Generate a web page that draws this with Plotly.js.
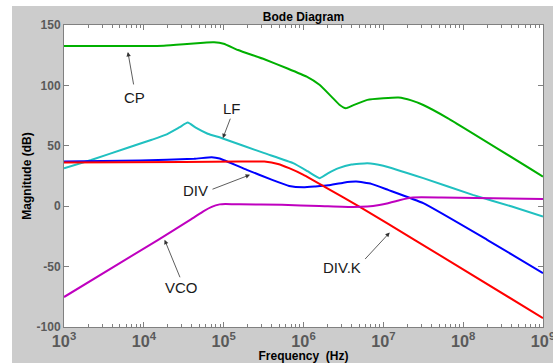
<!DOCTYPE html>
<html>
<head>
<meta charset="utf-8">
<script src="https://cdn.plot.ly/plotly-3.0.1.min.js"></script>
<style>
  html, body { margin: 0; padding: 0; background: #ffffff; }
  #chart { position: absolute; left: 12px; top: 6px; width: 541px; height: 357px; }
</style>
</head>
<body>
<div id="chart"></div>
<script>
// log10(frequency in Hz) and magnitude (dB)
const cpLogF  = [3, 4.0, 4.25, 4.5, 4.75, 4.88, 5.0, 5.18, 5.51, 5.8, 6.04, 6.2, 6.35, 6.45, 6.53, 6.62, 6.8, 7.0, 7.19, 7.35, 7.5, 7.81, 9];
const cpDB    = [132.6, 132.6, 132.8, 134, 135.4, 135.7, 134.5, 129.3, 121.6, 114, 107.2, 100.5, 90.7, 84, 81.1, 83.5, 88, 89.3, 89.9, 87.6, 83.8, 72.8, 24.5];

const lfLogF  = [3, 3.34, 3.78, 4.1, 4.27, 4.45, 4.55, 4.65, 4.8, 4.98, 5.51, 5.87, 6.05, 6.2, 6.3, 6.44, 6.6, 6.8, 7.0, 7.5, 8.12, 8.61, 9];
const lfDB    = [31.4, 38.3, 48, 55, 59, 65.5, 69.2, 65, 60, 56.3, 43.9, 35.6, 29, 23.2, 27, 31.5, 34.5, 35.6, 33.5, 23.2, 9.4, -0.3, -8.6];

const divLogF = [3, 3.96, 4.63, 4.85, 4.95, 5.29, 5.6, 5.82, 6.0, 6.15, 6.31, 6.5, 6.66, 6.85, 7.06, 7.5, 8.3, 9];
const divDB   = [36.9, 37.8, 39.2, 40.6, 39.5, 30.1, 22, 16.8, 15.6, 16.3, 17.3, 19.5, 20.4, 18.5, 13.5, 2.5, -27.8, -55.4];

const divkLogF = [3, 4.5, 5.2, 5.51, 5.68, 5.82, 6.0, 6.26, 6.71, 7.39, 9];
const divkDB   = [36.1, 36.5, 37, 36.9, 35, 31.5, 26, 16.3, -0.7, -27.8, -92.6];

const vcoLogF = [3, 4.18, 4.6, 4.75, 4.85, 4.95, 5.02, 5.2, 5.73, 6.2, 6.62, 6.8, 6.95, 7.06, 7.2, 7.37, 7.73, 9];
const vcoDB   = [-75.2, -27.8, -10.5, -4, -0.5, 1.5, 1.9, 1.6, 1.1, 0.2, -0.7, -0.3, 1, 2.5, 5, 7.2, 7.2, 5.9];

const seriesNames  = ['CP', 'LF', 'DIV', 'DIV.K', 'VCO'];
const seriesColors = ['#00b000', '#20c0c0', '#0000ff', '#ff0000', '#bf00bf'];

// y tick labels as printed (plain hyphen minus)
const yTickVals = [-100, -50, 0, 50, 100, 150];
const yTickText = ['-100', '-50', '0', '50', '100', '150'];

const toHz = a => a.map(v => Math.pow(10, v));
const xs = [cpLogF, lfLogF, divLogF, divkLogF, vcoLogF];
const ys = [cpDB, lfDB, divDB, divkDB, vcoDB];

const traces = seriesNames.map((n, i) => ({
  type: 'scatter', mode: 'lines', name: n,
  x: toHz(xs[i]), y: ys[i],
  line: { color: seriesColors[i], width: 2, shape: 'spline', smoothing: 0.4 },
  hoverinfo: 'skip', cliponaxis: true
}));

const fontFam = '"Liberation Sans", Arial, sans-serif';

function arrow(x, y, ax, ay) {
  return { x: x, y: y, xref: 'x', yref: 'y', text: '', showarrow: true,
           arrowhead: 2, arrowsize: 1.1, arrowwidth: 0.8, arrowcolor: '#333',
           ax: ax, ay: ay };
}
function label(t, x, y) {
  return { x: x, y: y, xref: 'x', yref: 'y', text: t, showarrow: false,
           font: { family: fontFam, size: 15, color: '#1a1a1a' },
           xanchor: 'center', yanchor: 'middle' };
}

const layout = {
  width: 541, height: 357,
  paper_bgcolor: '#cccccc', plot_bgcolor: '#ffffff',
  margin: { l: 52, r: 10, t: 19, b: 36 },
  showlegend: false,
  title: { text: '<b>Bode Diagram</b>', font: { family: fontFam, size: 12, color: '#000' },
           x: 0.5, xanchor: 'center', xref: 'paper', y: 1, yref: 'paper', yanchor: 'bottom', pad: { b: 4 } },
  xaxis: {
    type: 'log', range: [3, 9], dtick: 1, exponentformat: 'power',
    ticks: 'inside', ticklen: 5, tickcolor: '#808080', mirror: 'ticks',
    showline: true, linecolor: '#808080', linewidth: 1, showgrid: false,
    minor: { ticks: 'inside', ticklen: 3, tickcolor: '#808080', dtick: 'D1', showgrid: false },
    tickfont: { family: fontFam, size: 13, color: '#5a5a5a', weight: 'bold' },
    ticklabeloverflow: 'allow',
    title: { text: '<b>Frequency\u00a0 (Hz)</b>', font: { family: fontFam, size: 12, color: '#000' }, standoff: 4 },
    automargin: false
  },
  yaxis: {
    range: [-100, 150], tickmode: 'array', tickvals: yTickVals, ticktext: yTickText,
    zeroline: false, showgrid: false,
    ticks: 'inside', ticklen: 5, tickcolor: '#808080', mirror: 'ticks',
    showline: true, linecolor: '#808080', linewidth: 1,
    tickfont: { family: fontFam, size: 12, color: '#5a5a5a', weight: 'bold' },
    title: { text: '<b>Magnitude (dB)</b>', font: { family: fontFam, size: 12, color: '#000' }, standoff: 2 },
    automargin: false
  },
  annotations: [
    arrow(3.80, 127.7, 6, 34),
    arrow(4.99, 56.3, 8, -21),
    arrow(5.33, 26, -39, 15),
    arrow(4.26, -27.8, 16, 39),
    arrow(7.08, -21.8, -26, 28),
    label('CP', 3.887, 90.0),
    label('LF', 5.10, 80.5),
    label('DIV', 4.652, 12.7),
    label('VCO', 4.476, -67.5),
    label('DIV.K', 6.479, -51.0)
  ]
};

Plotly.newPlot('chart', traces, layout, { staticPlot: true, displayModeBar: false });
</script>
</body>
</html>
